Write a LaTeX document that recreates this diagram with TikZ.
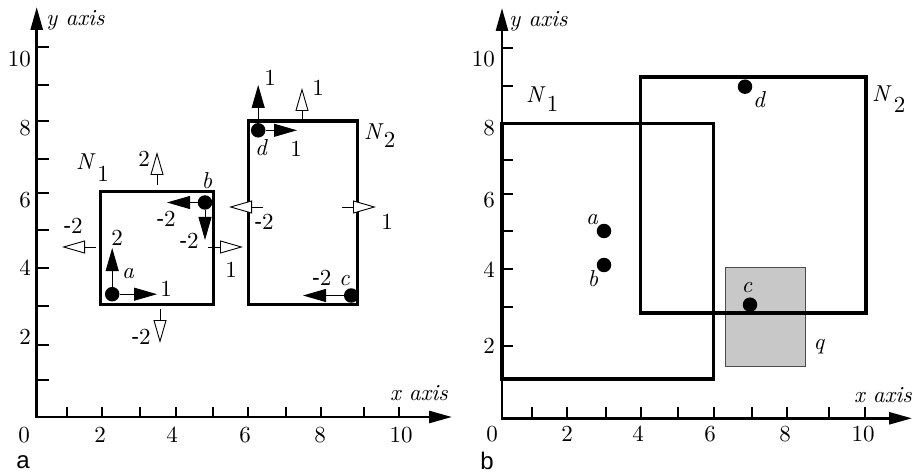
\documentclass[tikz,border=0pt]{standalone}
\usepackage{fontspec}
\newfontfamily\serfont{lmroman10-regular.otf}[ItalicFont=lmroman10-italic.otf]
\newfontfamily\panelfont{Liberation Sans}
\newcommand{\mtwo}{{\panelfont -}2}
\usetikzlibrary{arrows.meta}
\definecolor{qgray}{RGB}{200,200,200}
\begin{document}
\begin{tikzpicture}[x=1pt,y=-1pt,
  every node/.style={inner sep=0pt, font=\serfont\fontsize{23}{28}\selectfont},
  itl/.style={font=\serfont\fontsize{23}{28}\selectfont\itshape},
  axisline/.style={line width=2.6pt, {Triangle[length=23pt,width=12pt]}-{Triangle[length=23pt,width=12pt]}},
  tickmark/.style={line width=2.2pt},
  region/.style={line width=3.3pt, line join=miter},
  dot/.style={circle, fill=black, minimum size=14.5pt},
  blk/.style={line width=0.9pt, -{Triangle[length=23pt,width=13pt]}},
  wht/.style={line width=0.9pt, -{Triangle[length=23pt,width=13pt,fill=white]}},
]
\useasboundingbox (0,0) rectangle (913,473);

% ================= LEFT PANEL (a) =================
\coordinate (Lye) at (36.7,7);
\coordinate (Lo) at (36.7,417);
\coordinate (Lxe) at (452,417);
\draw[tickmark] foreach \t in {67.3,101.7,140,176,212.7,247.7,286,321,364,399.3} {(\t,417) -- (\t,406.5)};
\draw[tickmark] foreach \t in {46.7,85,120.7,159,192.7,230,267.7,306,345,380} {(36.7,\t) -- (49,\t)};
\draw[axisline] (Lye) -- (Lo) -- (Lxe);

\node (Lx0) at (24,435) {0};
\node (Lx2) at (100,435) {2};
\node (Lx4) at (172,435) {4};
\node (Lx6) at (245,435) {6};
\node (Lx8) at (320,435) {8};
\node (Lx10) at (401,435) {10};
\node[anchor=east] (Ly10) at (31,59) {10};
\node[anchor=east] (Ly8) at (31,128) {8};
\node[anchor=east] (Ly6) at (31,200) {6};
\node[anchor=east] (Ly4) at (31,268) {4};
\node[anchor=east] (Ly2) at (31,337) {2};
\node[itl,anchor=west] (Lyl) at (46,20) {y axis};
\node[itl,anchor=east] (Lxl) at (448,393) {x axis};
\node[font=\panelfont\fontsize{24}{28}\selectfont] (pa) at (23,462) {a};

% regions
\draw[region] (100.7,191.7) rectangle (213.7,304.3);
\draw[region] (248.3,121) rectangle (357.7,304.3);
\node[anchor=base west] (LN1) at (76,170) {\textit{N}\hspace{1.5pt}\raisebox{-12pt}{1}};
\node[anchor=base west] (LN2) at (364,140) {\textit{N}\raisebox{-8pt}{2}};

% points
\node[dot] (La) at (112.2,294.2) {};
\node[dot] (Lb) at (205,202.5) {};
\node[dot] (Lc) at (351.2,295.5) {};
\node[dot] (Ld) at (258.2,130.3) {};

\coordinate (Lar) at (157,294.2);
\coordinate (Lau) at (112.2,248);
\coordinate (Lbl) at (167,202.5);
\coordinate (Lbd) at (205,240);
\coordinate (Lcl) at (303,295.5);
\coordinate (Ldr) at (297,130.3);
\coordinate (Ldu) at (258.2,85);
\draw[blk] (La.east) -- (Lar);
\draw[blk] (La.north) -- (Lau);
\draw[blk] (Lb.west) -- (Lbl);
\draw[blk] (Lb.south) -- (Lbd);
\draw[blk] (Lc.west) -- (Lcl);
\draw[blk] (Ld.east) -- (Ldr);
\draw[blk] (Ld.north) -- (Ldu);

% boundary normals (white)
\coordinate (n1ts) at (157,185);   \coordinate (n1te) at (157,152);
\coordinate (n1bs) at (160,309);   \coordinate (n1be) at (160,343);
\coordinate (n1ls) at (96,247);    \coordinate (n1le) at (62,247);
\coordinate (n1rs) at (208,247);   \coordinate (n1re) at (243,247);
\coordinate (n2ls) at (263,207);   \coordinate (n2le) at (229,207);
\coordinate (n2rs) at (342,207);   \coordinate (n2re) at (376,207);
\coordinate (n2ts) at (302,123);   \coordinate (n2te) at (302,88);
\draw[wht] (n1ts) -- (n1te);
\draw[wht] (n1bs) -- (n1be);
\draw[wht] (n1ls) -- (n1le);
\draw[wht] (n1rs) -- (n1re);
\draw[wht] (n2ls) -- (n2le);
\draw[wht] (n2rs) -- (n2re);
\draw[wht] (n2ts) -- (n2te);

% labels
\node (t1) at (144,159) {2};
\node (t2) at (73,226) {\mtwo};
\node (t3) at (117,238) {2};
\node[itl] (la) at (128,274) {a};
\node (t4) at (166,289) {1};
\node[itl] (lb) at (207,181) {b};
\node (t5) at (166,219) {\mtwo};
\node (t6) at (189,241) {\mtwo};
\node (t7) at (231,270) {1};
\node (t8) at (141,337) {\mtwo};
\node (t9) at (264,222) {\mtwo};
\node (t10) at (387,222) {1};
\node (t11) at (331,278) {\mtwo{} \textit{c}};
\node[itl] (ld) at (261,148) {d};
\node (t12) at (296,149) {1};
\node (t13) at (270,78) {1};
\node (t14) at (318,88) {1};

% ================= RIGHT PANEL (b) =================
\coordinate (Rye) at (502,8);
\coordinate (Ro) at (502,418.3);
\coordinate (Rxe) at (912,418.3);
\draw[tickmark] foreach \t in {532,567,606,641,678,714,752,787,829,865} {(\t,418.3) -- (\t,407)};
\draw[tickmark] foreach \t in {48.3,86,123.3,160,194.3,231,269,307.3,346,380} {(502,\t) -- (513,\t)};
\draw[axisline] (Rye) -- (Ro) -- (Rxe);

\node (Rx0) at (492,434) {0};
\node (Rx2) at (567,434) {2};
\node (Rx4) at (638,434) {4};
\node (Rx6) at (710,434) {6};
\node (Rx8) at (785,434) {8};
\node (Rx10) at (863,434) {10};
\node[anchor=east] (Ry10) at (495,59) {10};
\node[anchor=east] (Ry8) at (495,128) {8};
\node[anchor=east] (Ry6) at (495,200) {6};
\node[anchor=east] (Ry4) at (495,270) {4};
\node[anchor=east] (Ry2) at (495,346) {2};
\node[itl,anchor=west] (Ryl) at (509,21) {y axis};
\node[itl,anchor=east] (Rxl) at (912,395) {x axis};
\node[font=\panelfont\fontsize{24}{28}\selectfont] (pb) at (487,461) {b};

\filldraw[fill=qgray, draw=black!70, line width=0.8pt] (725.3,267) rectangle (805.7,366.3);
\draw[region] (502,123.3) rectangle (713.3,379);
\draw[region] (640.7,77) rectangle (866,313);
\node[anchor=base west] (RN1) at (526,103) {\textit{N}\hspace{1pt}\raisebox{-9pt}{1}};
\node[anchor=base west] (RN2) at (872,102) {\textit{N}\hspace{2pt}\raisebox{-11pt}{2}};

\node[dot] (Ra) at (604,231) {};
\node[dot] (Rb) at (604,265) {};
\node[dot] (Rc) at (750,304.7) {};
\node[dot] (Rd) at (745,86.7) {};
\node[itl] (ra) at (592,220) {a};
\node[itl] (rb) at (593,279) {b};
\node[itl] (rc) at (747,288) {c};
\node[itl] (rd) at (759,100) {d};
\node[itl] (rq) at (819,347) {q};
\end{tikzpicture}
\end{document}
